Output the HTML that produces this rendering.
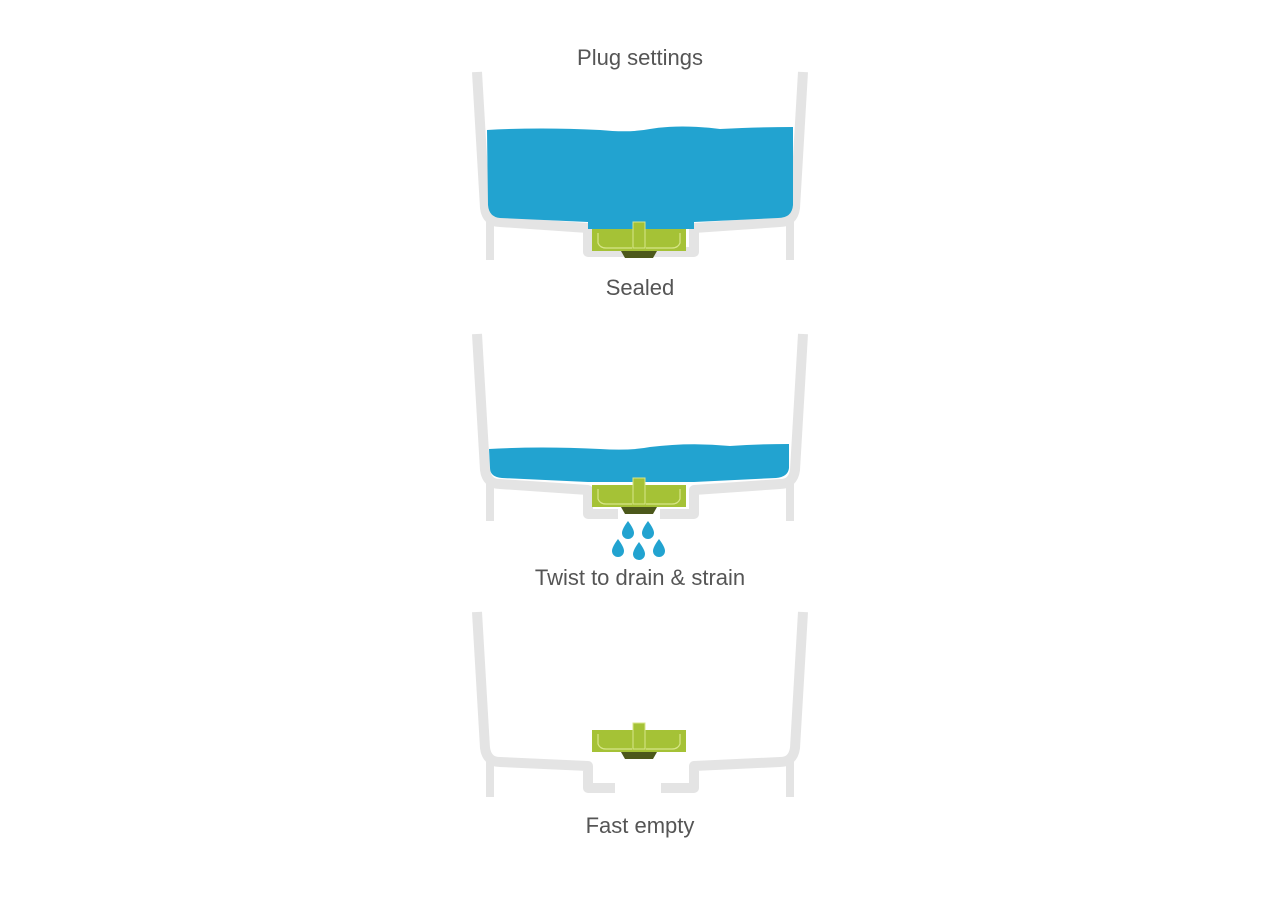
<!DOCTYPE html>
<html><head><meta charset="utf-8"><style>
body{margin:0;background:#fff;width:1280px;height:900px;overflow:hidden}
svg{display:block}
text{font-family:"Liberation Sans",sans-serif;font-size:22px;fill:#555;text-anchor:middle}
</style></head><body>
<svg width="1280" height="900" viewBox="0 0 1280 900">
<defs>
<g id="plug">
<rect x="592" y="0" width="94" height="22" fill="#a5c236"/>
<path d="M598 4 L598 14 Q600 19 606 19 L632 19 M646 19 L672 19 Q678 19 680 14 L680 4" stroke="#d8e68a" stroke-width="1.2" fill="none"/>
<rect x="633" y="-7" width="12" height="26" fill="#a5c236" stroke="#d8e68a" stroke-width="1"/>
<path d="M621 22 L657 22 L653 29 L625 29 Z" fill="#4c581b"/>
</g>
<g id="drops" fill="#22a3d0">
<path d="M0 -9 Q6 -1 6 3 A6 6 0 0 1 -6 3 Q-6 -1 0 -9Z"/>
</g>
</defs>
<g fill="none" stroke="#e4e4e4" stroke-linejoin="round">
<path d="M477 72 L485 208 Q487 222 500 222 L588 228 L588 252 L694 252 L694 228 L780 222 Q793 222 795 208 L803 72" stroke-width="10"/>
<path d="M490 222 L490 260 M790 222 L790 260" stroke-width="8"/>
<path d="M477 334 L485 470 Q487 484 500 484 L588 490 L588 514 L618 514 M660 514 L694 514 L694 490 L780 484 Q793 484 795 470 L803 334" stroke-width="10"/>
<path d="M490 484 L490 521 M790 484 L790 521" stroke-width="8"/>
<path d="M477 612 L485 748 Q487 762 500 762 L588 766 L588 788 L615 788 M661 788 L694 788 L694 766 L780 762 Q793 762 795 748 L803 612" stroke-width="10"/>
<path d="M490 762 L490 797 M790 762 L790 797" stroke-width="8"/>
</g>
<path d="M487 130 Q540 127 600 130 Q630 133 650 129 Q680 124 720 129 Q760 127 793 127 L793 205 Q792 218 778 218 L694 222 L694 229 L588 229 L588 222 L500 218 Q489 217 488 205 Z" fill="#22a3d0"/>
<use href="#plug" y="229"/>
<path d="M489 449 Q540 446 600 449 Q630 451 650 447 Q690 442 730 446 Q760 444 789 444 L789 468 Q788 477 776 478 L694 482 L588 482 L502 478 Q490 477 490 468 Z" fill="#22a3d0"/>
<use href="#plug" y="485"/>
<use href="#drops" x="628" y="530"/><use href="#drops" x="648" y="530"/>
<use href="#drops" x="618" y="548"/><use href="#drops" x="639" y="551"/><use href="#drops" x="659" y="548"/>
<use href="#plug" y="730"/>
<text x="640" y="65">Plug settings</text>
<text x="640" y="295">Sealed</text>
<text x="640" y="585">Twist to drain &amp; strain</text>
<text x="640" y="833">Fast empty</text>
</svg>
</body></html>
